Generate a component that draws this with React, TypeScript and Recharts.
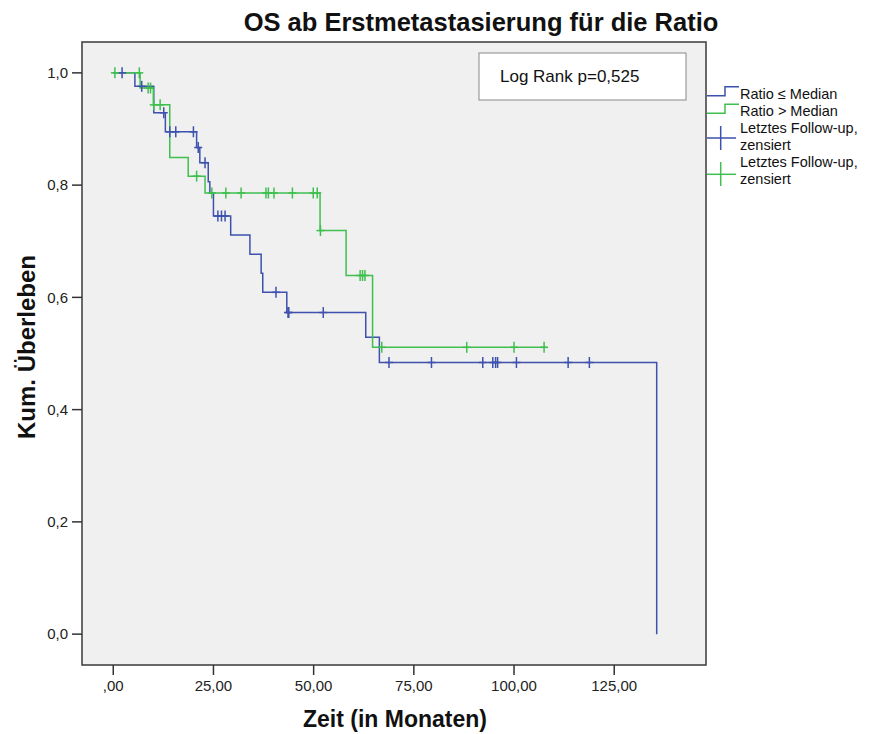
import {
  ComposedChart,
  Line,
  Scatter,
  XAxis,
  YAxis,
  ReferenceArea,
} from 'recharts';

// Kaplan-Meier Stufen (Zeit in Monaten, kum. Überleben)
const lowTimes = [0, 5.4, 10.1, 13.0, 20.8, 21.6, 23.7, 24.1, 25.0, 29.3, 34.1, 36.9, 37.3, 43.3, 63.0, 66.4, 135.6];
const lowSurv = [1.0, 0.976, 0.929, 0.895, 0.867, 0.84, 0.806, 0.786, 0.745, 0.711, 0.677, 0.643, 0.609, 0.573, 0.529, 0.484, 0.0];

const highTimes = [0, 6.7, 10.0, 14.1, 18.7, 22.9, 51.6, 58.1, 64.7, 108.1];
const highSurv = [1.0, 0.973, 0.943, 0.849, 0.816, 0.786, 0.719, 0.639, 0.511, 0.511];

// zensierte Fälle
const lowCensored = [2.2, 7.1, 12.6, 14.1, 15.6, 20.0, 21.2, 22.9, 26.1, 27.0, 27.9, 40.6, 43.6, 43.8, 52.4, 68.8, 79.4, 92.2, 94.7, 95.4, 95.9, 100.6, 113.5, 118.8];
const highCensored = [0.4, 6.5, 8.7, 9.3, 10.1, 11.7, 20.8, 24.6, 28.1, 31.9, 38.1, 38.7, 40.1, 44.7, 49.9, 50.9, 51.7, 61.6, 62.2, 62.8, 67.0, 88.2, 100.0, 107.5];

const xTicks = [0, 25, 50, 75, 100, 125];
const yTicks = [0, 0.2, 0.4, 0.6, 0.8, 1.0];
const xDomain = [-7.8, 147.9];
const yDomain = [-0.055, 1.055];

const BLUE = '#3d51ad';
const GREEN = '#3fbf4e';
const FONT = '"Liberation Sans", Arial, sans-serif';

const toSteps = (times: number[], surv: number[]) =>
  times.map((t, i) => ({ t, s: surv[i] }));

const survAt = (times: number[], surv: number[], t: number) => {
  let s = surv[0];
  times.forEach((tt, i) => {
    if (tt <= t) s = surv[i];
  });
  return s;
};

const lowData = toSteps(lowTimes, lowSurv);
const highData = toSteps(highTimes, highSurv);
const lowCens = lowCensored.map((t) => ({ t, s: survAt(lowTimes, lowSurv, t) }));
const highCens = highCensored.map((t) => ({ t, s: survAt(highTimes, highSurv, t) }));

const plus = (color: string) => (props: any) => {
  const { cx, cy } = props;
  return (
    <g>
      <line x1={cx} x2={cx} y1={cy - 5.5} y2={cy + 5.5} stroke={color} strokeWidth={1.5} />
      <line x1={cx - 4} x2={cx + 4} y1={cy} y2={cy} stroke={color} strokeWidth={1.5} />
    </g>
  );
};

const fmtX = (v: number) => (v === 0 ? ',00' : v.toFixed(2).replace('.', ','));
const fmtY = (v: number) => v.toFixed(1).replace('.', ',');

export default function App() {
  return (
    <div style={{ position: 'absolute', left: 0, top: 0, width: 879, height: 734, background: '#fff', fontFamily: FONT }}>
      <ComposedChart
        width={879}
        height={734}
        margin={{ top: 42, right: 173, bottom: 39, left: 22 }}
      >
        <XAxis
          type="number"
          dataKey="t"
          domain={xDomain}
          ticks={xTicks}
          tickFormatter={fmtX}
          allowDataOverflow
          axisLine={false}
          tickSize={10}
          tickMargin={5}
          height={30}
          tickLine={{ stroke: '#333', strokeWidth: 1.5 }}
          tick={{ fill: '#222', fontSize: 15, fontFamily: FONT }}
        />
        <YAxis
          type="number"
          dataKey="s"
          domain={yDomain}
          ticks={yTicks}
          tickFormatter={fmtY}
          allowDataOverflow
          axisLine={false}
          width={60}
          tickSize={10}
          tickMargin={4}
          tickLine={{ stroke: '#333', strokeWidth: 1.5 }}
          tick={{ fill: '#222', fontSize: 15, fontFamily: FONT }}
        />
        <ReferenceArea
          x1={xDomain[0]}
          x2={xDomain[1]}
          y1={yDomain[0]}
          y2={yDomain[1]}
          fill="#f0f0f0"
          fillOpacity={1}
          stroke="#3a3a3a"
          strokeWidth={1.5}
        />
        <Line
          data={lowData}
          dataKey="s"
          type="stepAfter"
          stroke={BLUE}
          strokeWidth={1.5}
          dot={false}
          isAnimationActive={false}
        />
        <Line
          data={highData}
          dataKey="s"
          type="stepAfter"
          stroke={GREEN}
          strokeWidth={1.5}
          dot={false}
          isAnimationActive={false}
        />
        <Scatter data={lowCens} dataKey="s" shape={plus(BLUE)} isAnimationActive={false} />
        <Scatter data={highCens} dataKey="s" shape={plus(GREEN)} isAnimationActive={false} />
      </ComposedChart>

      <svg
        width={879}
        height={734}
        style={{ position: 'absolute', left: 0, top: 0, pointerEvents: 'none' }}
        fontFamily={FONT}
      >
        <text x={481} y={31} textAnchor="middle" fontSize={25.5} fontWeight="bold" fill="#111">
          OS ab Erstmetastasierung für die Ratio
        </text>
        <text x={395} y={727} textAnchor="middle" fontSize={23} fontWeight="bold" fill="#111">
          Zeit (in Monaten)
        </text>
        <text
          x={0}
          y={0}
          transform="translate(35,347) rotate(-90)"
          textAnchor="middle"
          fontSize={24}
          fontWeight="bold"
          fill="#111"
        >
          Kum. Überleben
        </text>

        <rect x={479} y={53} width={207} height={47} fill="#fff" stroke="#888" strokeWidth={1} />
        <text x={500} y={82} fontSize={17} fill="#111">
          Log Rank p=0,525
        </text>

        <path d="M707 95.7 H725 V86.7 H739" fill="none" stroke={BLUE} strokeWidth={1.5} />
        <text x={740} y={98.5} fontSize={14.5} fill="#111">Ratio ≤ Median</text>
        <path d="M707 113.2 H725 V104.2 H739" fill="none" stroke={GREEN} strokeWidth={1.5} />
        <text x={740} y={116} fontSize={14.5} fill="#111">Ratio &gt; Median</text>

        <line x1={707} x2={736} y1={138} y2={138} stroke={BLUE} strokeWidth={1.5} />
        <line x1={720.7} x2={720.7} y1={126} y2={150} stroke={BLUE} strokeWidth={1.5} />
        <text x={740} y={133} fontSize={14.5} fill="#111">Letztes Follow-up,</text>
        <text x={740} y={150} fontSize={14.5} fill="#111">zensiert</text>

        <line x1={707} x2={736} y1={174.3} y2={174.3} stroke={GREEN} strokeWidth={1.5} />
        <line x1={720.7} x2={720.7} y1={162} y2={186} stroke={GREEN} strokeWidth={1.5} />
        <text x={740} y={167} fontSize={14.5} fill="#111">Letztes Follow-up,</text>
        <text x={740} y={184} fontSize={14.5} fill="#111">zensiert</text>
      </svg>
    </div>
  );
}
